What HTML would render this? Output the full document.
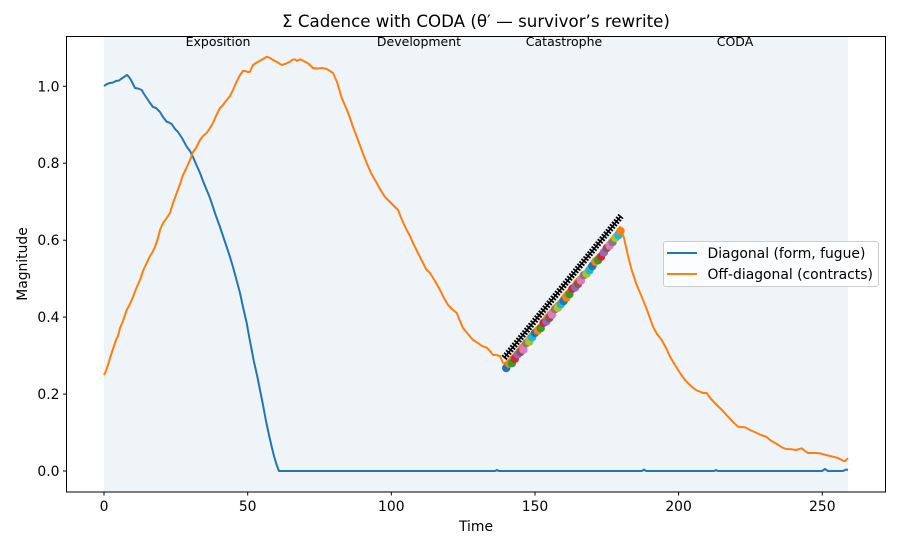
<!DOCTYPE html>
<html><head><meta charset="utf-8"><style>
html,body{margin:0;padding:0;background:#fff;}
svg{display:block;font-family:"DejaVu Sans","Liberation Sans",sans-serif;}
</style></head><body>
<svg width="900" height="550" viewBox="0 0 900 550" xmlns="http://www.w3.org/2000/svg">
<rect width="900" height="550" fill="#fff"/>
<rect x="104" y="36.5" width="744" height="455.5" fill="#eff4f8"/>
<g font-size="12.5" fill="#000" text-anchor="middle">
<text x="218" y="46">Exposition</text>
<text x="419" y="46">Development</text>
<text x="564" y="46">Catastrophe</text>
<text x="735" y="46">CODA</text>
</g>
<polyline fill="none" stroke="#1f77b4" stroke-width="2" stroke-linejoin="round" points="104,86 107,84 110,83 113,82.5 116,81 119,80.5 121,79 124,77 127,75 129,77 131,80 133,84 135,88 138,88.5 141.7,90 144,94 146.7,98 150,103 153,107 156,108 160,112 163,117 166.7,121.7 169,122.5 171.7,124 175,129 178,132 182,138 186.7,146.7 190,151 193,157 196,164 200,173 203,181 206.7,190 210,198 213,207 216,216 220,227 223,236 226.7,247 230,257 233,267 236,278 240,293 243,307 246.7,323 249,336 251.7,350 254,362 257,375 260,390 263,405 266,421 269,435 272,448 274,456 277,466 279,471 495,471 497,470 499,471 642,471 644,469.5 646,471 714,471 716,470 718,471 822,471 825,469 828,471 843,471 846,469.5 848,470"/>
<polyline fill="none" stroke="#ff7f0e" stroke-width="2" stroke-linejoin="round" points="104,375 106,371 108,365 110,358 113.3,348 116,340 118,336 120,328 123,321 126.7,310 130,304 133,297 136,289 140,280 143,271 146.7,263 150,256 152,253 155,247 158,238 160,230 163,223 166,219 170,213 173,203 176.7,193 180,184 183,175 186,169 190,160 193,152 196,148 200,140 203,136 206.7,133 210,128 213,123 216,116 220,108 223,105 226.7,100 230,96 233,90 236,83 240,75 243,71 245,71 248,72 250,71.7 253,65 256,63 260,60.7 263,59 266.7,56.7 270,58 273,60 277,62 281.7,65 285,64 290,61.7 292,60 295,59.3 297,61 300,59.3 302,60 305,61.7 309,64 313,68 318,68.5 322,68 326.7,69 330,71 333,73 337,82 341.7,98 347,110 350,118 353,127 358,140 362,151 366.7,163 371,173 376.7,183 380,189 385,197 390,202 394,206 398,210 402,220 406.7,230 410,236 413,243 418,253 423,263 426,269 430,273 435,281 440,290 444,298 448,305 452,309 456.7,313 460,321 463,328 468,334 473,340 478,343 482,346 486.7,347.7 490,351 493,355 496,355 500,356 503,363 506,363 511,357 515,353 520,346 525,341 530,334 535,329 540,324 545,316 550,311 555,305 560,300 565,293 570,288 575,281 580,276 585,271 590,264 595,258 600,253 605,246 610,240 615,234 620,227 624,238 628,256 631.7,270 636,283 641.7,296.7 647,310 653,326.7 657,334 661.7,340 666,348 670,356.7 675,365 680,373 685,380 691.7,386.7 696,390 700,391.7 703,393 706.7,393 711,399 716.7,405 722,410 728,416.7 733,422 738,426.7 741,427 745,427.3 750,430 756.7,433 761,435 766.7,437 770,440 773,441.7 777,444 781.7,447.3 786,449 791.7,449.3 796,450 801.7,448.3 805,451 808,453 814,453 820,453.3 826,455 833,456.7 838,458 843,460.7 845,461 848,458.3"/>
<g>
<circle cx="506.2" cy="368" r="4.2" fill="#1f77b4"/>
<circle cx="509.1" cy="363.6" r="4.2" fill="#ff7f0e"/>
<circle cx="511.9" cy="363.2" r="4.2" fill="#2ca02c"/>
<circle cx="514.8" cy="358.8" r="4.2" fill="#d62728"/>
<circle cx="517.7" cy="354.4" r="4.2" fill="#9467bd"/>
<circle cx="520.6" cy="352" r="4.2" fill="#8c564b"/>
<circle cx="523.4" cy="349.6" r="4.2" fill="#e377c2"/>
<circle cx="526.3" cy="343.2" r="4.2" fill="#7f7f7f"/>
<circle cx="529.2" cy="341.8" r="4.2" fill="#bcbd22"/>
<circle cx="532.1" cy="337.4" r="4.2" fill="#17becf"/>
<circle cx="534.9" cy="333" r="4.2" fill="#1f77b4"/>
<circle cx="537.8" cy="330.6" r="4.2" fill="#ff7f0e"/>
<circle cx="540.7" cy="328.2" r="4.2" fill="#2ca02c"/>
<circle cx="543.6" cy="322.8" r="4.2" fill="#d62728"/>
<circle cx="546.4" cy="321.4" r="4.2" fill="#9467bd"/>
<circle cx="549.3" cy="318" r="4.2" fill="#8c564b"/>
<circle cx="552.2" cy="314.6" r="4.2" fill="#e377c2"/>
<circle cx="555.0" cy="309.2" r="4.2" fill="#7f7f7f"/>
<circle cx="557.9" cy="307.8" r="4.2" fill="#bcbd22"/>
<circle cx="560.8" cy="304.4" r="4.2" fill="#17becf"/>
<circle cx="563.7" cy="301" r="4.2" fill="#1f77b4"/>
<circle cx="566.5" cy="297.6" r="4.2" fill="#ff7f0e"/>
<circle cx="569.4" cy="294.2" r="4.2" fill="#2ca02c"/>
<circle cx="572.3" cy="288.8" r="4.2" fill="#d62728"/>
<circle cx="575.2" cy="287.4" r="4.2" fill="#9467bd"/>
<circle cx="578.0" cy="284" r="4.2" fill="#8c564b"/>
<circle cx="580.9" cy="280.6" r="4.2" fill="#e377c2"/>
<circle cx="583.8" cy="275.2" r="4.2" fill="#7f7f7f"/>
<circle cx="586.6" cy="273.8" r="4.2" fill="#bcbd22"/>
<circle cx="589.5" cy="270.4" r="4.2" fill="#17becf"/>
<circle cx="592.4" cy="266" r="4.2" fill="#1f77b4"/>
<circle cx="595.3" cy="261.6" r="4.2" fill="#ff7f0e"/>
<circle cx="598.1" cy="260.2" r="4.2" fill="#2ca02c"/>
<circle cx="601.0" cy="256.8" r="4.2" fill="#d62728"/>
<circle cx="603.9" cy="252.4" r="4.2" fill="#9467bd"/>
<circle cx="606.8" cy="248" r="4.2" fill="#8c564b"/>
<circle cx="609.6" cy="245.6" r="4.2" fill="#e377c2"/>
<circle cx="612.5" cy="242.2" r="4.2" fill="#7f7f7f"/>
<circle cx="615.4" cy="237.8" r="4.2" fill="#bcbd22"/>
<circle cx="618.3" cy="235.4" r="4.2" fill="#17becf"/>
<circle cx="620.5" cy="231" r="4.2" fill="#ff7f0e"/>
</g>
<line x1="504" y1="358" x2="621" y2="216" stroke="#000" stroke-width="1.5"/>
<line x1="504" y1="358" x2="621" y2="216" stroke="#000" stroke-width="6.5" stroke-dasharray="1.8 1.4"/>
<rect x="66.5" y="36.5" width="819" height="455.5" fill="none" stroke="#000" stroke-width="1"/>
<g stroke="#000" stroke-width="1">
<line x1="104" y1="492" x2="104" y2="495.5"/>
<line x1="247.7" y1="492" x2="247.7" y2="495.5"/>
<line x1="391.3" y1="492" x2="391.3" y2="495.5"/>
<line x1="535" y1="492" x2="535" y2="495.5"/>
<line x1="678.6" y1="492" x2="678.6" y2="495.5"/>
<line x1="822.3" y1="492" x2="822.3" y2="495.5"/>
<line x1="63" y1="471" x2="66.5" y2="471"/>
<line x1="63" y1="394.1" x2="66.5" y2="394.1"/>
<line x1="63" y1="317.1" x2="66.5" y2="317.1"/>
<line x1="63" y1="240.2" x2="66.5" y2="240.2"/>
<line x1="63" y1="163.2" x2="66.5" y2="163.2"/>
<line x1="63" y1="86.3" x2="66.5" y2="86.3"/>
</g>
<g font-size="13.9" fill="#000" text-anchor="middle">
<text x="104" y="511">0</text>
<text x="247.7" y="511">50</text>
<text x="391.3" y="511">100</text>
<text x="535" y="511">150</text>
<text x="678.6" y="511">200</text>
<text x="822.3" y="511">250</text>
</g>
<g font-size="13.9" fill="#000" text-anchor="end">
<text x="59.5" y="476">0.0</text>
<text x="59.5" y="399.1">0.2</text>
<text x="59.5" y="322.1">0.4</text>
<text x="59.5" y="245.2">0.6</text>
<text x="59.5" y="168.2">0.8</text>
<text x="59.5" y="91.3">1.0</text>
</g>
<text x="476" y="531" font-size="13.9" text-anchor="middle">Time</text>
<text transform="translate(27,264) rotate(-90)" font-size="13.9" text-anchor="middle">Magnitude</text>
<text x="476" y="27" font-size="16.67" text-anchor="middle">Σ Cadence with CODA (θ′ — survivor’s rewrite)</text>
<rect x="663.5" y="241.5" width="215" height="45" rx="2.5" fill="#fff" fill-opacity="0.8" stroke="#cccccc" stroke-width="1"/>
<line x1="667" y1="253" x2="697" y2="253" stroke="#1f77b4" stroke-width="2"/>
<line x1="667" y1="274" x2="697" y2="274" stroke="#ff7f0e" stroke-width="2"/>
<g font-size="13.9" fill="#000">
<text x="707.5" y="258">Diagonal (form, fugue)</text>
<text x="707.5" y="279">Off-diagonal (contracts)</text>
</g>
</svg>
</body></html>
